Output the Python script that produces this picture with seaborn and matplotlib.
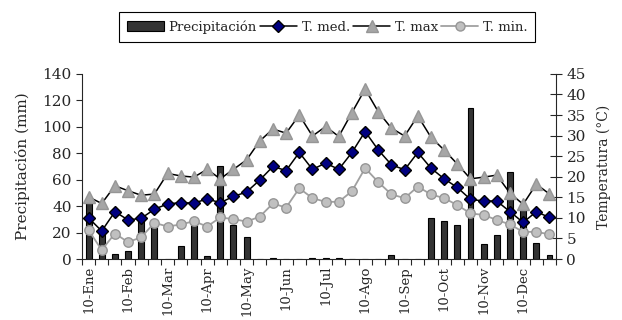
import numpy as np
import pandas as pd
import matplotlib
matplotlib.use("Agg")
import matplotlib.pyplot as plt
import seaborn as sns
from matplotlib.lines import Line2D
from matplotlib.patches import Patch

months = ["Ene", "Feb", "Mar", "Apr", "May", "Jun", "Jul", "Ago", "Sep", "Oct", "Nov", "Dec"]
dekads = [f"{d}-{m}" for m in months for d in (10, 20, 30)]

precip = [43, 21, 4, 6, 30, 26, 0, 10, 29, 2, 70, 26, 17, 0, 1, 0, 0, 1, 1, 1,
          0, 0, 0, 3, 0, 0, 31, 29, 26, 114, 11, 18, 66, 40, 12, 3]
t_max = [15.1, 13.5, 17.8, 16.6, 15.5, 15.8, 20.8, 20.2, 19.9, 21.8, 19.5, 21.8,
         24.1, 28.7, 31.6, 30.6, 35.0, 29.9, 32.2, 29.8, 35.6, 41.3, 35.8, 31.8,
         29.9, 34.8, 29.6, 26.5, 23.1, 19.5, 19.9, 20.4, 16.0, 13.3, 18.2, 15.8]
t_med = [10.0, 6.8, 11.5, 9.5, 9.9, 12.1, 13.4, 13.7, 13.6, 14.6, 13.7, 15.2,
         16.3, 19.2, 22.5, 21.5, 25.9, 21.8, 23.3, 21.8, 25.9, 31.0, 26.5, 22.9,
         21.7, 25.9, 22.1, 19.5, 17.4, 14.5, 14.1, 14.1, 11.5, 8.9, 11.5, 10.1]
t_min = [7.0, 2.2, 6.2, 4.1, 5.3, 8.8, 7.9, 8.4, 9.2, 7.9, 10.1, 9.7,
         9.1, 10.3, 13.5, 12.5, 17.2, 14.8, 13.9, 13.9, 16.5, 22.1, 18.7, 15.7,
         14.8, 17.6, 15.7, 14.8, 13.1, 11.1, 10.7, 9.5, 8.4, 6.6, 6.6, 6.0]
tick_labels = [f"10-{m}" for m in months]

sns.set_style("ticks")
plt.rcParams["font.family"] = ["DejaVu Serif"]

df = pd.DataFrame({"dekad": dekads, "pos": np.arange(len(dekads)), "precip": precip,
                   "t_max": t_max, "t_med": t_med, "t_min": t_min})

fig = plt.figure(figsize=(6.22, 3.2), dpi=100)
ax = fig.add_axes([0.1318, 0.1906, 0.894 - 0.1318, 0.769 - 0.1906])

sns.barplot(data=df, x="dekad", y="precip", order=dekads, ax=ax, color="#333333",
            edgecolor="black", linewidth=0.8, width=0.45, saturation=1)
ax.set_xlim(-0.5, len(dekads) - 0.5)
ax.set_ylim(0, 140)
ax.set_yticks(np.arange(0, 141, 20))
ax.set_ylabel("Precipitación (mm)", fontsize=11, labelpad=9)
ax.set_xlabel("")
ax.set_xticks(np.arange(0, len(dekads), 3))
ax.set_xticklabels(tick_labels, rotation=90, fontsize=9.5)
ax.set_xticks(np.arange(-0.5, len(dekads), 1), minor=True)
ax.tick_params(axis="x", which="major", length=0, pad=5)
ax.tick_params(axis="x", which="minor", length=4, width=0.8, direction="out")
ax.tick_params(axis="y", length=4, width=0.8, direction="out", labelsize=11)
ax.spines["top"].set_visible(False)
ax.spines["right"].set_visible(False)
for s in ("left", "bottom"):
    ax.spines[s].set_linewidth(0.8)

ax2 = ax.twinx()
sns.lineplot(data=df, x="pos", y="t_min", ax=ax2, color="#a0a0a0", lw=1.3,
             marker="o", markersize=6.8, markerfacecolor="#c0c0c0",
             markeredgecolor="#969696", markeredgewidth=1)
sns.lineplot(data=df, x="pos", y="t_max", ax=ax2, color="black", lw=1.1,
             marker="^", markersize=8, markerfacecolor="#a6a6a6",
             markeredgecolor="#969696", markeredgewidth=1)
sns.lineplot(data=df, x="pos", y="t_med", ax=ax2, color="black", lw=1.1,
             marker="D", markersize=5.8, markerfacecolor="#000080",
             markeredgecolor="black", markeredgewidth=1)
ax2.set_xlim(-0.5, len(dekads) - 0.5)
ax2.set_ylim(0, 45)
ax2.set_yticks(np.arange(0, 46, 5))
ax2.set_ylabel("Temperatura (°C)", fontsize=10, labelpad=8)
ax2.set_xlabel("")
ax2.tick_params(axis="y", length=8, width=0.8, direction="inout", labelsize=11)
ax2.spines["top"].set_visible(False)
ax2.spines["left"].set_visible(False)
ax2.spines["bottom"].set_visible(False)
ax2.spines["right"].set_linewidth(0.8)

handles = [
    Patch(facecolor="#333333", edgecolor="black", linewidth=0.8),
    Line2D([], [], color="black", lw=1.1, marker="D", markersize=5.8,
           markerfacecolor="#000080", markeredgecolor="black"),
    Line2D([], [], color="black", lw=1.1, marker="^", markersize=8,
           markerfacecolor="#a6a6a6", markeredgecolor="#969696"),
    Line2D([], [], color="#a0a0a0", lw=1.3, marker="o", markersize=6.5,
           markerfacecolor="#c0c0c0", markeredgecolor="#969696"),
]
labels = ["Precipitación", "T. med.", "T. max", "T. min."]
leg = fig.legend(handles, labels, loc="center", bbox_to_anchor=(0.526, 0.916),
                 ncol=4, frameon=True, fancybox=False, fontsize=9.5,
                 handlelength=2.8, handletextpad=0.35, columnspacing=0.25,
                 borderpad=0.6, edgecolor="black")
leg.get_frame().set_linewidth(0.8)
leg.get_frame().set_alpha(1)

fig.savefig("out.png", dpi=100)
